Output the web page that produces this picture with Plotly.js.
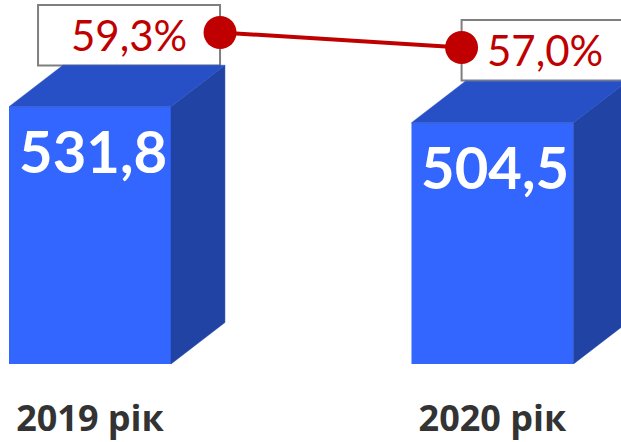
<!DOCTYPE html>
<html>
<head>
<meta charset="utf-8">
<script src="https://cdn.plot.ly/plotly-3.0.1.min.js"></script>
<style>html,body{margin:0;padding:0;background:#fff;}#chart{width:621px;height:442px;}</style>
</head>
<body>
<div id="chart"></div>
<script>
// ---- data ----
const years = ['2019 рік', '2020 рік'];
const volumes = [531.8, 504.5];
const shares = [59.3, 57.0];

// ---- style ----
const frontColor = '#3366FF', topColor = '#2850C6', sideColor = '#2143A3';
const red = '#C00000';
const barW = 0.4025;
const yBase = 92.8, yTop = 713.9;
const depthX = 0.134, depthY = 70.8;
const idx = years.map((_, i) => i);

function fmt(v, d) { return v.toFixed(d).replace('.', ','); }

// side and top faces built from the data values
const sideX = [], sideY = [], topX = [], topY = [];
idx.forEach(i => {
  const v = volumes[i], xl = i - barW / 2, xr = i + barW / 2;
  sideX.push(xr, xr + depthX, xr + depthX, xr, xr, null);
  sideY.push(yBase, yBase + depthY, v + depthY, v, yBase, null);
  topX.push(xl, xl + depthX, xr + depthX, xr, xl, null);
  topY.push(v, v + depthY, v + depthY, v, v, null);
});

const traces = [
  { type: 'bar', x: idx, y: volumes, width: barW, marker: { color: frontColor, line: { width: 0 } }, hoverinfo: 'skip' },
  { type: 'scatter', mode: 'lines', x: sideX, y: sideY, fill: 'toself', fillcolor: sideColor, line: { color: sideColor, width: 0.5 }, hoverinfo: 'skip' },
  { type: 'scatter', mode: 'lines', x: topX, y: topY, fill: 'toself', fillcolor: topColor, line: { color: topColor, width: 0.5 }, hoverinfo: 'skip' },
  { type: 'scatter', mode: 'lines+markers', x: idx, y: shares, xaxis: 'x2', yaxis: 'y2',
    line: { color: red, width: 4 }, marker: { color: red, size: 33 }, hoverinfo: 'skip' }
];

const annotations = [];
const shapes = [];
const boxSide = [-1, 1];
const textDx = [-91, 83];
idx.forEach(i => {
  annotations.push({
    xref: 'x', yref: 'y', x: i, y: volumes[i], text: fmt(volumes[i], 1), showarrow: false,
    xanchor: 'center', yanchor: 'middle', xshift: 3, yshift: -44,
    font: { family: 'Lato, "Open Sans", sans-serif', size: 58, color: '#FFFFFF', weight: 'bold' }
  });
  annotations.push({
    xref: 'x2', yref: 'y2', x: i, y: shares[i], text: fmt(shares[i], 1) + '%', showarrow: false,
    xanchor: 'center', yanchor: 'middle', xshift: textDx[i], yshift: -3,
    font: { family: 'Lato, "Open Sans", sans-serif', size: 42, color: red }
  });
  const s = boxSide[i];
  shapes.push({
    type: 'rect', layer: 'below', xref: 'x2', yref: 'y2',
    xsizemode: 'pixel', ysizemode: 'pixel', xanchor: i, yanchor: shares[i],
    x0: s < 0 ? -182 : 0, x1: s < 0 ? 0 : 181, y0: -33, y1: 27.5,
    line: { color: '#7F7F7F', width: 2 }, fillcolor: '#FFFFFF'
  });
});

const layout = {
  width: 621, height: 442,
  margin: { l: 0, r: 0, t: 0, b: 78, pad: 0 },
  paper_bgcolor: '#FFFFFF', plot_bgcolor: 'rgba(0,0,0,0)',
  showlegend: false,
  xaxis: {
    range: [-0.2236, 1.3193], tickvals: idx, ticktext: years,
    showgrid: false, zeroline: false, showline: false, ticks: '',
    ticklabelstandoff: 30,
    tickfont: { family: '"Open Sans", sans-serif', size: 36, color: '#333333', weight: 'bold' },
    fixedrange: true
  },
  yaxis: { range: [yBase, yTop], visible: false, fixedrange: true },
  xaxis2: { range: [-0.911, 1.660], overlaying: 'x', visible: false, fixedrange: true },
  yaxis2: { range: [8.47, 64.28], overlaying: 'y', visible: false, fixedrange: true },
  annotations: annotations,
  shapes: shapes
};

Plotly.newPlot('chart', traces, layout, { displayModeBar: false, staticPlot: true });
</script>
</body>
</html>
